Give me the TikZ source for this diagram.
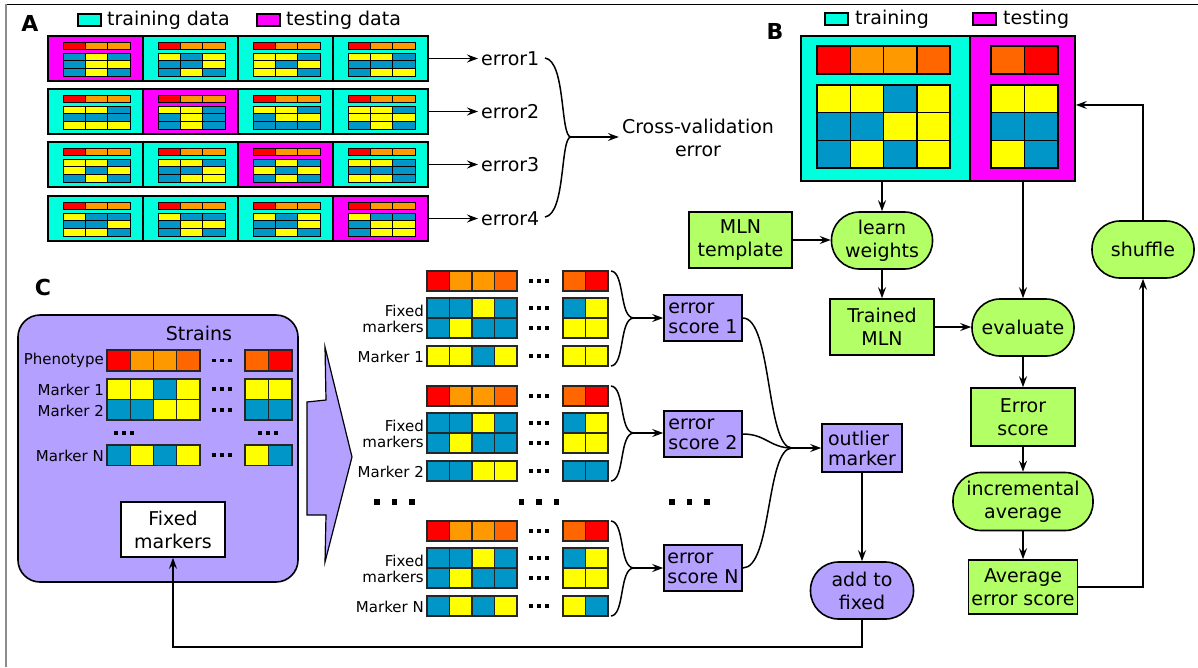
\documentclass[tikz,border=0pt]{standalone}
\usepackage{fontspec}
\setmainfont{DejaVu Sans}
\usetikzlibrary{arrows.meta,calc}
\definecolor{cCy}{RGB}{0,255,221}
\definecolor{cMa}{RGB}{255,0,255}
\definecolor{cR}{RGB}{255,0,0}
\definecolor{cO}{RGB}{255,153,0}
\definecolor{cD}{RGB}{255,102,0}
\definecolor{cY}{RGB}{255,255,0}
\definecolor{cB}{RGB}{0,150,200}
\definecolor{cG}{RGB}{179,255,102}
\definecolor{cP}{RGB}{179,160,255}
\newcommand\fbig{\fontsize{19}{23}\selectfont}
\newcommand\ftight{\fontsize{19}{20}\selectfont}
\newcommand\fsmall{\fontsize{15}{16}\selectfont}
\newcommand\flabel{\fontsize{22}{24}\selectfont\bfseries}
\newcommand\cellrow[6]{%
  \foreach \cellc [count=\celli from 0] in {#6} {
    \draw[#1, fill=\cellc] ({#2+\celli*#4},{#3}) rectangle ++(#4,#5);
  }}
\newcommand\tridots[2]{\foreach \kk in {-1,0,1}{\fill ({#1+\kk*8-1.6},{#2-1.6}) rectangle ++(3.2,3.2);}}
\newcommand\bigdots[2]{\foreach \kk in {-1,0,1}{\fill ({#1+\kk*17.5-2.7},{#2-2.7}) rectangle ++(5.4,5.4);}}
\newcommand\fold[7]{%
  \node[foldbox, fill=#4] (#1) at ({#2+47.5},{#3+22.5}) {};
  \cellrow{acell}{#2+15}{#3+6}{22.3}{7.5}{cR,cO,cO}
  \cellrow{acell}{#2+15}{#3+17}{22.3}{7.67}{#5}
  \cellrow{acell}{#2+15}{#3+24.67}{22.3}{7.67}{#6}
  \cellrow{acell}{#2+15}{#3+32.33}{22.3}{7.67}{#7}
}
\newcommand\cblock[5]{%
  \cellrow{ccell}{427}{#2}{22.5}{20}{cR,cO,cO,cD}
  \cellrow{ccell}{563}{#2}{22.5}{20}{cD,cR}
  \cellrow{ccell}{427}{#2+27}{22.5}{20}{cB,cB,cY,cB}
  \cellrow{ccell}{563}{#2+27}{22.5}{20}{cB,cY}
  \cellrow{ccell}{427}{#2+47}{22.5}{20}{cB,cY,cB,cB}
  \cellrow{ccell}{563}{#2+47}{22.5}{20}{cY,cY}
  \cellrow{ccell}{427}{#2+75}{22.5}{20}{#4}
  \cellrow{ccell}{563}{#2+75}{22.5}{20}{#5}
  \tridots{539}{#2+10}\tridots{539}{#2+37}\tridots{539}{#2+57}\tridots{539}{#2+85}
  \node[anchor=east, align=right, inner sep=0pt, font=\fsmall] (#1-fm) at (424,{#2+47.5}) {Fixed\\markers};
  \node[anchor=east, inner sep=0pt, font=\fsmall] (#1-mk) at (424,{#2+85.5}) {#3};
  \coordinate (#1-tip) at (634,{#2+47});
  \draw[lw] (611,{#2}) .. controls (625,{#2+1}) and (619,{#2+47}) .. (#1-tip)
            .. controls (619,{#2+47}) and (625,{#2+94}) .. (611,{#2+95});
}
\tikzset{
  lw/.style={line width=1.5pt},
  arr/.style={lw, -{Stealth[length=11pt,width=8pt,inset=4pt]}},
  acell/.style={draw=black, line width=0.7pt},
  bcell/.style={draw=black, line width=1.5pt},
  ccell/.style={draw=black!85, line width=1.1pt},
  foldbox/.style={draw, line width=1.8pt, minimum width=95pt, minimum height=45pt, inner sep=0pt},
  gbox/.style={draw, fill=cG, line width=1.6pt, inner sep=0pt, align=center, font=\fbig},
  gstad/.style={gbox, rounded corners=28pt},
  pbox/.style={draw, fill=cP, line width=1.6pt, inner sep=0pt, align=left, font=\ftight},
  txt/.style={inner sep=0pt, font=\fbig},
  legbox/.style={draw, line width=1.3pt, minimum width=23pt, minimum height=12pt, inner sep=0pt},
  lab/.style={inner sep=0pt, font=\flabel},
}
\begin{document}
\begin{tikzpicture}[x=1pt,y=-1pt]
\useasboundingbox (0,0) rectangle (1198,667);
\fill[white] (0,0) rectangle (1198,667);
% frame
\draw[line width=1pt] (6,4) -- (1198,4);
\draw[line width=1.5pt, black!45] (6,4) -- (6,667);

% ===== Panel A =====
\node[lab] (labA) at (30,23) {A};
\node[legbox, fill=cCy] (legA1) at (89.5,20) {};
\node[txt, anchor=west] (legA1t) at (107,20) {training data};
\node[legbox, fill=cMa] (legA2) at (268.5,20) {};
\node[txt, anchor=west] (legA2t) at (286,20) {testing data};

\fold{f11}{48}{36}{cMa}{cB,cY,cB}{cB,cY,cY}{cB,cY,cB}
\fold{f12}{143}{36}{cCy}{cY,cB,cY}{cB,cB,cY}{cB,cY,cB}
\fold{f13}{238}{36}{cCy}{cY,cY,cB}{cY,cB,cY}{cY,cY,cB}
\fold{f14}{333}{36}{cCy}{cY,cY,cB}{cB,cB,cB}{cB,cY,cY}
\fold{f21}{48}{89}{cCy}{cY,cY,cB}{cB,cB,cB}{cY,cY,cY}
\fold{f22}{143}{89}{cMa}{cY,cY,cB}{cB,cY,cB}{cB,cY,cB}
\fold{f23}{238}{89}{cCy}{cY,cY,cB}{cB,cY,cY}{cB,cB,cB}
\fold{f24}{333}{89}{cCy}{cY,cY,cB}{cY,cY,cY}{cB,cY,cB}
\fold{f31}{48}{142}{cCy}{cY,cY,cB}{cY,cB,cY}{cB,cY,cB}
\fold{f32}{143}{142}{cCy}{cY,cY,cB}{cB,cB,cY}{cB,cY,cY}
\fold{f33}{238}{142}{cMa}{cB,cY,cB}{cY,cB,cY}{cB,cY,cB}
\fold{f34}{333}{142}{cCy}{cY,cY,cB}{cB,cB,cB}{cY,cY,cB}
\fold{f41}{48}{196}{cCy}{cY,cB,cB}{cB,cB,cY}{cY,cY,cB}
\fold{f42}{143}{196}{cCy}{cY,cB,cB}{cB,cY,cY}{cB,cY,cB}
\fold{f43}{238}{196}{cCy}{cY,cB,cY}{cB,cB,cY}{cB,cY,cB}
\fold{f44}{333}{196}{cMa}{cY,cB,cB}{cB,cY,cY}{cB,cY,cY}

\node[txt, anchor=west, inner sep=3pt] (e1) at (478,58.5) {error1};
\node[txt, anchor=west, inner sep=3pt] (e2) at (478,111.5) {error2};
\node[txt, anchor=west, inner sep=3pt] (e3) at (478,164.5) {error3};
\node[txt, anchor=west, inner sep=3pt] (e4) at (478,218.5) {error4};
\foreach \r/\e in {1/e1,2/e2,3/e3,4/e4} {
  \draw[arr] (f\r4.east) -- (\e.west);
}
\node[txt, align=center, inner sep=3pt] (cv) at (698,138) {Cross-validation\\error};
\coordinate (cvtip) at (571,137);
\draw[lw] (545,58) .. controls (566,61) and (560,137) .. (cvtip)
          .. controls (560,137) and (566,214) .. (545,217);
\draw[arr] (cvtip) -- (cv.west |- cvtip);

% ===== Panel B =====
\node[lab] (labB) at (775,31) {B};
\node[legbox, fill=cCy] (legB1) at (836.5,19) {};
\node[txt, anchor=west] (legB1t) at (855,19) {training};
\node[legbox, fill=cMa] (legB2) at (984.5,19) {};
\node[txt, anchor=west] (legB2t) at (1003,19) {testing};

\node[draw, line width=1.8pt, fill=cCy, minimum width=169pt, minimum height=145pt, inner sep=0pt] (train) at (885.5,108.5) {};
\node[draw, line width=1.8pt, fill=cMa, minimum width=105pt, minimum height=145pt, inner sep=0pt] (test) at (1022.5,108.5) {};
\cellrow{bcell}{817}{46}{33.25}{28}{cR,cO,cO,cD}
\cellrow{bcell}{817}{85}{33.25}{27.67}{cY,cY,cB,cY}
\cellrow{bcell}{817}{112.67}{33.25}{27.67}{cB,cB,cY,cY}
\cellrow{bcell}{817}{140.33}{33.25}{27.67}{cB,cY,cB,cY}
\cellrow{bcell}{991}{46}{33.5}{28}{cD,cR}
\cellrow{bcell}{991}{85}{33.5}{27.67}{cY,cY}
\cellrow{bcell}{991}{112.67}{33.5}{27.67}{cB,cB}
\cellrow{bcell}{991}{140.33}{33.5}{27.67}{cY,cB}

\node[gbox, minimum width=103pt, minimum height=56pt] (mln) at (740.5,240) {MLN\\template};
\node[gstad, minimum width=101pt, minimum height=57pt] (learn) at (882,240.5) {learn\\weights};
\node[gbox, minimum width=104pt, minimum height=56pt] (trained) at (882,327) {Trained\\MLN};
\node[gstad, minimum width=102pt, minimum height=57pt] (eval) at (1023,327.5) {evaluate};
\node[gbox, minimum width=104pt, minimum height=58pt] (escore) at (1023,417) {Error\\score};
\node[gstad, minimum width=140pt, minimum height=58pt] (incavg) at (1023,501.5) {incremental\\average};
\node[gbox, minimum width=109pt, minimum height=54pt] (avgerr) at (1023,587) {Average\\error score};
\node[gstad, minimum width=102pt, minimum height=57pt] (shuffle) at (1143,249.5) {shuffle};

\draw[arr] (train.south -| learn.north) -- (learn.north);
\draw[arr] (test.south -| eval.north) -- (eval.north);
\draw[arr] (mln.east) -- (learn.west |- mln.east);
\draw[arr] (learn.south) -- (trained.north);
\draw[arr] (trained.east) -- (eval.west |- trained.east);
\draw[arr] (eval.south) -- (escore.north);
\draw[arr] (escore.south) -- (incavg.north);
\draw[arr] (incavg.south) -- (avgerr.north);
\draw[arr] (avgerr.east) -| (shuffle.south);
\coordinate (tin) at ($(test.north east)!0.476!(test.south east)$);
\draw[arr] (shuffle.north) |- (tin);

% ===== Panel C =====
\node[lab] (labC) at (43,287) {C};
\node[draw, fill=cP, rounded corners=22pt, line width=1.6pt, minimum width=280pt, minimum height=267pt, inner sep=0pt] (strains) at (158,448.5) {};
\node[txt] (strainsT) at (199,333) {Strains};
\cellrow{ccell}{107}{350}{23.25}{21}{cR,cO,cO,cD}
\cellrow{ccell}{245}{350}{23.5}{21}{cD,cR}
\cellrow{ccell}{107}{379}{23.25}{20.5}{cY,cY,cB,cY}
\cellrow{ccell}{245}{379}{23.5}{20.5}{cY,cY}
\cellrow{ccell}{107}{399.5}{23.25}{20.5}{cB,cB,cY,cY}
\cellrow{ccell}{245}{399.5}{23.5}{20.5}{cB,cB}
\cellrow{ccell}{107}{445}{23.25}{20.5}{cB,cY,cB,cY}
\cellrow{ccell}{245}{445}{23.5}{20.5}{cY,cB}
\tridots{222}{360.5}\tridots{222}{389}\tridots{222}{410}\tridots{222}{455}
\tridots{124}{433}\tridots{268}{433}
\node[anchor=east, inner sep=0pt, font=\fsmall] (lphen) at (104,360.5) {Phenotype};
\node[anchor=east, inner sep=0pt, font=\fsmall] (lm1) at (104,389.5) {Marker 1};
\node[anchor=east, inner sep=0pt, font=\fsmall] (lm2) at (104,410.5) {Marker 2};
\node[anchor=east, inner sep=0pt, font=\fsmall] (lmN) at (104,455.5) {Marker N};
\node[draw, fill=white, line width=1.6pt, minimum width=104pt, minimum height=55pt, inner sep=0pt, align=center, font=\fbig] (fixedbox) at (173,529.5) {Fixed\\markers};

\draw[line width=1.2pt, fill=cP] (307,402) -- (326,400) -- (325,347) -- (352,457) -- (325,562) -- (326,515) -- (307,515) -- cycle;

\cblock{b1}{271}{Marker 1}{cY,cY,cB,cY}{cY,cY}
\cblock{b2}{386}{Marker 2}{cB,cB,cY,cY}{cB,cB}
\cblock{bN}{521}{Marker N}{cB,cY,cB,cY}{cY,cB}
\bigdots{394.5}{502}\bigdots{539}{502}\bigdots{689.5}{502}

\node[pbox, minimum width=78pt, minimum height=46pt] (es1) at (703,318) {error\\score 1};
\node[pbox, minimum width=78pt, minimum height=46pt] (es2) at (703,434) {error\\score 2};
\node[pbox, minimum width=78pt, minimum height=46pt] (esN) at (703,568) {error\\score N};
\draw[arr] (b1-tip) -- (es1.west |- b1-tip);
\draw[arr] (b2-tip) -- (es2.west |- b2-tip);
\draw[arr] (bN-tip) -- (esN.west |- bN-tip);

\node[pbox, minimum width=80pt, minimum height=48pt] (outlier) at (862,448) {outlier\\marker};
\node[draw, fill=cP, line width=1.6pt, inner sep=0pt, align=center, font=\fbig, rounded corners=28pt, minimum width=103pt, minimum height=57pt] (addfixed) at (862,590.5) {add to\\fixed};
\coordinate (mg) at (792,448);
\draw[lw] (es1.east) .. controls (772,318) and (766,448) .. (mg);
\draw[lw] (es2.east) .. controls (766,434) and (770,448) .. (mg);
\draw[lw] (esN.east) .. controls (772,568) and (766,448) .. (mg);
\draw[arr] (mg) -- (outlier.west);
\draw[arr] (outlier.south) -- (addfixed.north);
\coordinate (fbk) at (0,647);
\draw[arr] (addfixed.south) -- (addfixed.south |- fbk) -| (fixedbox.south);
\end{tikzpicture}
\end{document}
